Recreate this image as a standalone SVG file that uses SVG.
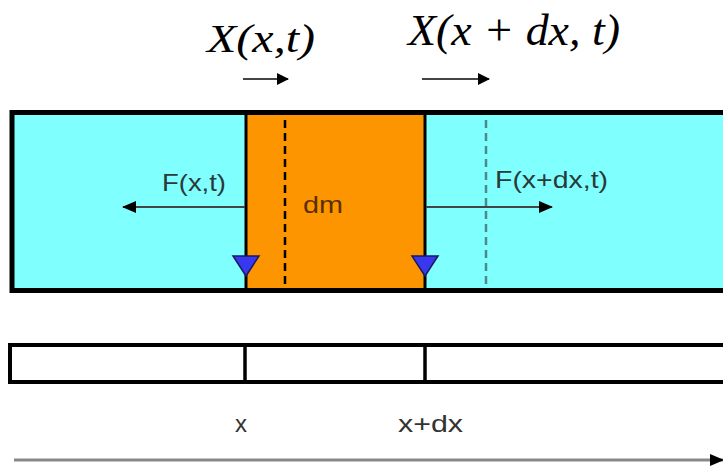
<svg xmlns="http://www.w3.org/2000/svg" width="723" height="468" viewBox="0 0 723 468">
<style>
.lbl{font-family:"Liberation Sans",Arial,sans-serif;font-size:24px;fill:#2a3a3a}
.math{font-family:"Liberation Serif","Times New Roman",serif;font-style:italic;fill:#000}
.conn{stroke:#444;stroke-width:2;fill:none}
</style>
<defs>
<marker id="ah" markerWidth="12" markerHeight="12" refX="11" refY="6" orient="auto" markerUnits="userSpaceOnUse" viewBox="0 0 12 12">
<path d="M0,0 L12,6 L0,12 z" fill="#000"/>
</marker>
<marker id="ahs" markerWidth="14" markerHeight="14" refX="13" refY="7" orient="auto" markerUnits="userSpaceOnUse" viewBox="0 0 14 14">
<path d="M0,1 L14,7 L0,13 z" fill="#000"/>
</marker>
</defs>
<rect width="723" height="468" fill="#fff"/>
<g id="labels-top">
<text class="math" x="207" y="52" font-size="40" textLength="108" lengthAdjust="spacingAndGlyphs">X(x,t)</text>
<text class="math" x="408" y="45" font-size="44" textLength="212" lengthAdjust="spacingAndGlyphs">X(x + dx, t)</text>
</g>
<g id="rod">
<rect x="12" y="112.5" width="720" height="178" fill="#80ffff" stroke="#000" stroke-width="5"/>
<rect x="246" y="115" width="179" height="173" fill="#fd9500"/>
<line x1="246" y1="113" x2="246" y2="290" stroke="#000" stroke-width="3"/>
<line x1="425" y1="113" x2="425" y2="290" stroke="#000" stroke-width="3"/>
<line x1="285" y1="120" x2="285" y2="288" stroke="#000" stroke-width="2.5" stroke-dasharray="8,5"/>
<line x1="486" y1="120" x2="486" y2="288" stroke="#4a8a8a" stroke-width="2.5" stroke-dasharray="8,5"/>
</g>
<g id="dm">
<text class="lbl" x="303" y="213" style="fill:#5a3000" textLength="40" lengthAdjust="spacingAndGlyphs">dm</text>
</g>
<g id="markers">
<path d="M233,256 L259,256 L246,276 z" fill="#3838f0" stroke="#1a1a60" stroke-width="1.5"/>
<path d="M412,256 L438,256 L425,276 z" fill="#3838f0" stroke="#1a1a60" stroke-width="1.5"/>
</g>
<g id="bar">
<rect x="10" y="345" width="720" height="37" fill="#fff" stroke="#000" stroke-width="4"/>
<line x1="245" y1="345" x2="245" y2="382" stroke="#000" stroke-width="3.5"/>
<line x1="425" y1="345" x2="425" y2="382" stroke="#000" stroke-width="3.5"/>
</g>
<g id="connectors">
<line class="conn" x1="245" y1="207" x2="123" y2="207" marker-end="url(#ahs)"/>
<line class="conn" x1="426" y1="207" x2="552" y2="207" marker-end="url(#ahs)"/>
<line class="conn" x1="243" y1="79" x2="288" y2="79" marker-end="url(#ah)"/>
<line class="conn" x1="422" y1="79" x2="489" y2="79" marker-end="url(#ah)"/>
<line stroke="#888" stroke-width="3" x1="14" y1="460" x2="723" y2="460" marker-end="url(#ahs)"/>
</g>
<g id="force-labels">
<text class="lbl" x="162" y="191" textLength="64" lengthAdjust="spacingAndGlyphs">F(x,t)</text>
<text class="lbl" x="495" y="188" textLength="113" lengthAdjust="spacingAndGlyphs">F(x+dx,t)</text>
</g>
<g id="axis-labels">
<text class="lbl" x="235" y="432" style="fill:#333">x</text>
<text class="lbl" x="398" y="432" style="fill:#333" textLength="65" lengthAdjust="spacingAndGlyphs">x+dx</text>
</g>
</svg>
